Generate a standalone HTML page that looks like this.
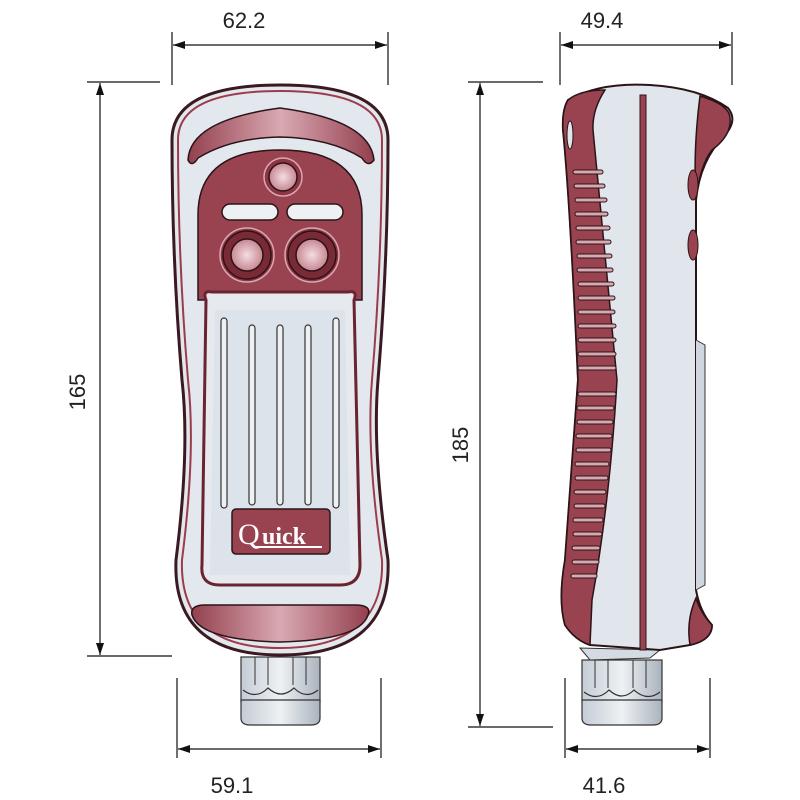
<!DOCTYPE html>
<html><head><meta charset="utf-8"><style>
html,body{margin:0;padding:0;background:#fff}
svg{display:block}
text{font-family:"Liberation Sans Narrow","Liberation Sans",sans-serif;font-stretch:condensed;fill:#222}
</style></head><body>
<svg width="800" height="800" viewBox="0 0 800 800" xmlns="http://www.w3.org/2000/svg">
<defs>
<marker id="a" viewBox="0 0 12 8" refX="12" refY="4" markerWidth="12" markerHeight="8" orient="auto-start-reverse" markerUnits="userSpaceOnUse"><path d="M0,0 L12,4 L0,8z" fill="#111"/></marker>
<linearGradient id="mb" x1="0" x2="1"><stop offset="0" stop-color="#94404e"/><stop offset=".5" stop-color="#d9a9b2"/><stop offset="1" stop-color="#94404e"/></linearGradient>
<radialGradient id="bt" cx=".5" cy=".5" r=".5"><stop offset="0" stop-color="#f3dde1"/><stop offset="1" stop-color="#c78793"/></radialGradient>
<linearGradient id="gl" x1="0" x2="1"><stop offset="0" stop-color="#c4ccd5"/><stop offset=".5" stop-color="#eef1f4"/><stop offset="1" stop-color="#aab3bd"/></linearGradient>
</defs>
<g stroke="#111" stroke-width="1.2" fill="none">
<line x1="172" y1="32" x2="172" y2="85"/><line x1="388" y1="32" x2="388" y2="85"/>
<line x1="173" y1="45" x2="387" y2="45" marker-start="url(#a)" marker-end="url(#a)"/>
<line x1="87" y1="82" x2="160" y2="82"/><line x1="87" y1="656" x2="172" y2="656"/>
<line x1="100" y1="83" x2="100" y2="655" marker-start="url(#a)" marker-end="url(#a)"/>
<line x1="177" y1="678" x2="177" y2="758"/><line x1="381" y1="678" x2="381" y2="758"/>
<line x1="178" y1="749" x2="380" y2="749" marker-start="url(#a)" marker-end="url(#a)"/>
<line x1="560" y1="32" x2="560" y2="85"/><line x1="732" y1="32" x2="732" y2="85"/>
<line x1="561" y1="45" x2="731" y2="45" marker-start="url(#a)" marker-end="url(#a)"/>
<line x1="468" y1="82" x2="543" y2="82"/><line x1="468" y1="727" x2="553" y2="727"/>
<line x1="480" y1="83" x2="480" y2="726" marker-start="url(#a)" marker-end="url(#a)"/>
<line x1="565" y1="678" x2="565" y2="758"/><line x1="710" y1="678" x2="710" y2="758"/>
<line x1="566" y1="749" x2="709" y2="749" marker-start="url(#a)" marker-end="url(#a)"/>
</g>
<text x="244" y="28" font-size="22" text-anchor="middle">62.2</text>
<text x="602" y="28" font-size="22" text-anchor="middle">49.4</text>
<text x="232" y="793" font-size="22" text-anchor="middle">59.1</text>
<text x="604" y="793" font-size="22" text-anchor="middle">41.6</text>
<text x="0" y="0" font-size="22" text-anchor="middle" transform="translate(85,392) rotate(-90)">165</text>
<text x="0" y="0" font-size="22" text-anchor="middle" transform="translate(468,445) rotate(-90)">185</text>

<g stroke="#333" stroke-width="1.2">
<rect x="241" y="657" width="79" height="45" fill="url(#gl)"/>
<path d="M241,700 L241,718 Q241,725 250,725 L311,725 Q320,725 320,718 L320,700z" fill="url(#gl)"/>
<path d="M255,657 V685 M268,657 V685 M293,657 V685 M306,657 V685" fill="none" stroke-width="1"/>
<path d="M243,690 Q256,700 268,688 Q281,700 294,688 Q306,700 318,690" fill="none"/>
</g>
<path d="M172,140 Q172,85 280,85 Q388,85 388,140 Q388,260 378,380 Q372,450 388,560 Q392,655 280,655 Q172,655 176,560 Q190,450 182,380 Q172,260 172,140z" fill="#e3e8ee" stroke="#3a1a20" stroke-width="3"/>
<path d="M178,140 Q178,91 280,91 Q382,91 382,140 Q382,260 372,380 Q366,450 382,560 Q385,648 280,648 Q179,648 182,560 Q196,450 188,380 Q178,260 178,140z" fill="none" stroke="#9c3b4a" stroke-width="2"/>
<path d="M188,160 Q190,120 280,108 Q370,120 374,160 Q368,168 362,158 Q330,138 280,137 Q230,138 198,158 Q192,168 188,160z" fill="url(#mb)" stroke="#2a1418" stroke-width="1.5"/>
<path d="M198,300 L198,215 Q198,150 280,150 Q362,150 362,215 L362,300z" fill="#9a4350" stroke="#2a1418" stroke-width="1.5"/>
<path d="M206,300 Q202,290 212,292 L348,292 Q358,290 354,300 L360,565 Q360,585 340,585 L220,585 Q200,585 202,565z" fill="#e6eaef" stroke="#6a2430" stroke-width="3"/>
<path d="M215,310 L345,310 L350,575 L210,575z" fill="#dde3ea" stroke="none"/>
<g fill="#eef1f4" stroke="#333" stroke-width="1.2">
<rect x="221" y="318" width="6" height="190" rx="3"/><rect x="249" y="325" width="6" height="180" rx="3"/><rect x="277" y="325" width="6" height="180" rx="3"/><rect x="305" y="325" width="6" height="180" rx="3"/><rect x="333" y="318" width="6" height="190" rx="3"/>
</g>
<rect x="232" y="509" width="98" height="45" rx="4" fill="#9a4350" stroke="#2a1418" stroke-width="1.5"/>
<text x="238" y="544" font-size="30" style="fill:#fff;font-family:'Liberation Serif',serif;font-stretch:normal">Q</text>
<text x="262" y="544" font-size="24" font-weight="bold" style="fill:#fff;font-family:'Liberation Serif',serif;font-stretch:normal">uick</text>
<line x1="255" y1="547" x2="322" y2="547" stroke="#fff" stroke-width="2"/>
<path d="M192,615 Q190,605 205,605 L355,605 Q372,605 368,615 Q360,640 280,642 Q200,640 192,615z" fill="url(#mb)" stroke="#2a1418" stroke-width="1.5"/>
<g stroke="#2a1418" stroke-width="1.5">
<circle cx="283" cy="177" r="19" fill="#8e3443" stroke="#d9a9b2"/><circle cx="283" cy="177" r="14" fill="url(#bt)"/>
<rect x="222" y="204" width="56" height="16" rx="8" fill="#eef1f4"/><rect x="287" y="204" width="56" height="16" rx="8" fill="#eef1f4"/>
<circle cx="247" cy="255" r="27" fill="#8e3443" stroke="#d9a9b2"/><circle cx="247" cy="255" r="24" fill="#7a2a36"/><circle cx="247" cy="255" r="16" fill="url(#bt)"/>
<circle cx="312" cy="255" r="27" fill="#8e3443" stroke="#d9a9b2"/><circle cx="312" cy="255" r="24" fill="#7a2a36"/><circle cx="312" cy="255" r="16" fill="url(#bt)"/>
</g>

<g stroke="#333" stroke-width="1.2">
<rect x="582" y="660" width="80" height="42" fill="url(#gl)"/>
<path d="M582,700 L582,718 Q582,725 591,725 L653,725 Q662,725 662,718 L662,700z" fill="url(#gl)"/>
<path d="M595,660 V688 M608,660 V688 M633,660 V688 M646,660 V688" fill="none" stroke-width="1"/>
<path d="M584,692 Q597,702 609,690 Q622,702 634,690 Q647,702 660,692" fill="none"/>
</g>
<path d="M580,648 L590,660 L650,658 L660,650z" fill="#d5dbe2" stroke="#333"/>
<path d="M568,100 Q600,82 650,85 Q700,88 728,108 Q738,120 725,135 Q700,160 696,200 L696,590 Q700,612 712,625 Q712,640 690,645 L660,650 L590,645 Q575,640 565,625 Q558,600 565,560 L578,380 Q570,200 563,130 Q562,110 568,100z" fill="#e1e6ec" stroke="#2a1418" stroke-width="2"/>
<path d="M568,100 Q580,90 605,90 Q592,110 593,130 Q605,250 617,380 Q610,500 592,600 L590,645 Q575,640 565,625 Q558,600 565,560 L578,380 Q570,200 563,130 Q562,110 568,100z" fill="#9a4350" stroke="#2a1418" stroke-width="1.5"/>
<path d="M700,96 Q730,105 730,118 Q732,135 712,150 Q700,165 696,200 Q693,150 700,96z" fill="#9a4350" stroke="#2a1418" stroke-width="1.5"/>
<path d="M696,598 Q700,612 712,625 Q712,640 690,645 Q686,620 696,598z" fill="#9a4350" stroke="#2a1418" stroke-width="1.5"/>
<rect x="640" y="95" width="6" height="555" fill="#9a4350" stroke="#2a1418" stroke-width="1"/>
<path d="M696,340 L705,345 L705,585 L696,590" fill="#d0d6dd" stroke="#333"/>
<ellipse cx="693" cy="185" rx="5" ry="15" fill="#9a4350" stroke="#2a1418"/>
<ellipse cx="693" cy="245" rx="5" ry="15" fill="#9a4350" stroke="#2a1418"/>
<ellipse cx="570" cy="135" rx="3" ry="14" fill="#e1e6ec" stroke="#2a1418"/>
<g stroke="#2a1418" stroke-width="1" fill="#d9a9b2">
<rect x="573" y="170" width="30" height="4" rx="2"/><rect x="574" y="184" width="31" height="4" rx="2"/><rect x="575" y="198" width="32" height="4" rx="2"/><rect x="575" y="212" width="33" height="4" rx="2"/><rect x="576" y="226" width="34" height="4" rx="2"/><rect x="576" y="240" width="35" height="4" rx="2"/><rect x="577" y="254" width="35" height="4" rx="2"/><rect x="577" y="268" width="36" height="4" rx="2"/><rect x="578" y="282" width="36" height="4" rx="2"/><rect x="578" y="296" width="37" height="4" rx="2"/><rect x="578" y="310" width="37" height="4" rx="2"/><rect x="578" y="324" width="38" height="4" rx="2"/><rect x="578" y="338" width="38" height="4" rx="2"/><rect x="578" y="352" width="38" height="4" rx="2"/><rect x="578" y="366" width="38" height="4" rx="2"/><rect x="578" y="392" width="38" height="4" rx="2"/><rect x="577" y="406" width="37" height="4" rx="2"/><rect x="577" y="420" width="36" height="4" rx="2"/><rect x="576" y="434" width="36" height="4" rx="2"/><rect x="576" y="448" width="35" height="4" rx="2"/><rect x="575" y="462" width="34" height="4" rx="2"/><rect x="575" y="476" width="33" height="4" rx="2"/><rect x="574" y="490" width="32" height="4" rx="2"/><rect x="574" y="504" width="31" height="4" rx="2"/><rect x="573" y="518" width="30" height="4" rx="2"/><rect x="573" y="532" width="29" height="4" rx="2"/><rect x="572" y="546" width="28" height="4" rx="2"/><rect x="572" y="560" width="27" height="4" rx="2"/><rect x="571" y="574" width="26" height="4" rx="2"/>
</g>
</svg>
</body></html>
